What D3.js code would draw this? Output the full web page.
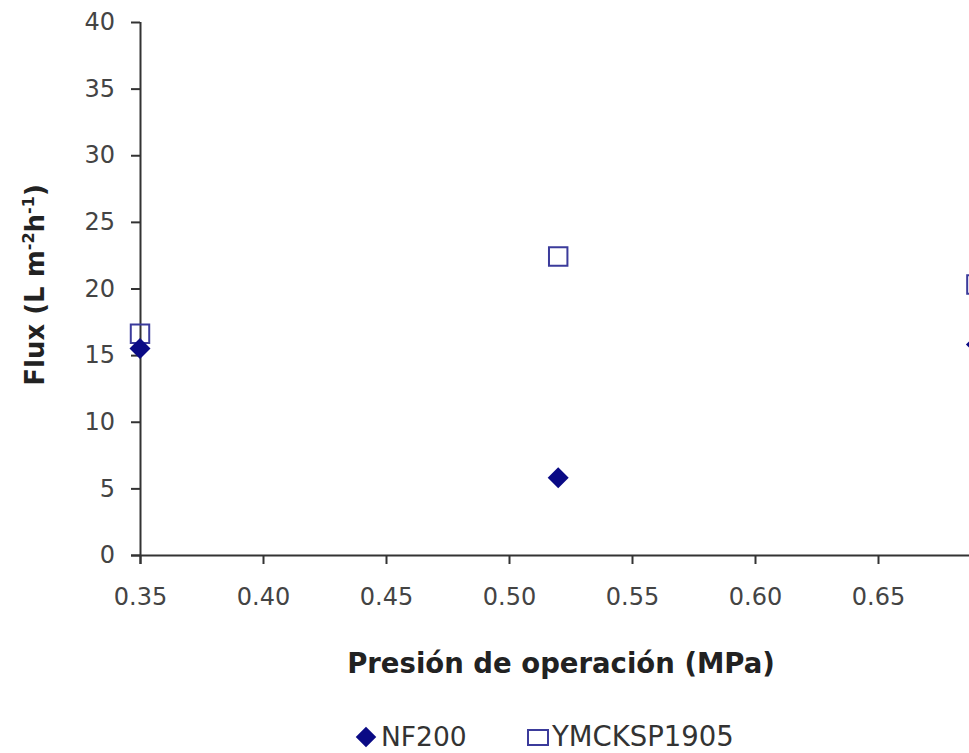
<!DOCTYPE html>
<html><head><meta charset="utf-8">
<script src="https://cdn.jsdelivr.net/npm/d3@7"></script>
<style>body{margin:0;background:#fff;overflow:hidden}</style>
</head><body>
<svg id="c" width="969" height="753"></svg>
<script>
const pressure = [0.35, 0.52, 0.69];
const nf200 = [15.5, 5.8, 15.8];
const ymcksp1905 = [16.6, 22.4, 20.3];
const xTicks = [0.35, 0.40, 0.45, 0.50, 0.55, 0.60, 0.65];
const yTicks = [0, 5, 10, 15, 20, 25, 30, 35, 40];
const seriesNames = ["NF200", "YMCKSP1905"];

const svg = d3.select("#c");
const x = d3.scaleLinear().domain([0.35, 0.70]).range([140, 1001]);
const y = d3.scaleLinear().domain([0, 40]).range([555, 22]);
const axisColor = "#333";
const font = "DejaVu Sans, Verdana, sans-serif";

const yAxis = svg.append("g").attr("transform", "translate(140,0)")
  .call(d3.axisLeft(y).tickValues(yTicks).tickSize(9).tickPadding(16).tickFormat(d3.format("d")));
const xAxis = svg.append("g").attr("transform", "translate(0,555)")
  .call(d3.axisBottom(x).tickValues(xTicks).tickSize(9).tickPadding(24).tickFormat(d3.format(".2f")));
[yAxis, xAxis].forEach(g => {
  g.select(".domain").attr("stroke", axisColor).attr("stroke-width", 2);
  g.selectAll(".tick line").attr("stroke", axisColor).attr("stroke-width", 2);
  g.selectAll(".tick text").attr("fill", "#444").style("font-family", font).style("font-size", "24px");
});
xAxis.select(".domain").attr("d", "M131,0.5H969");
yAxis.select(".domain").attr("d", "M0.5,22V564");

// Axis titles
svg.append("text").attr("x", 561).attr("y", 673).attr("text-anchor", "middle")
  .style("font-family", font).style("font-size", "27.5px").style("font-weight", "bold").attr("fill", "#222")
  .text("Presión de operación (MPa)");
const yt = svg.append("text").attr("transform", "translate(44,285) rotate(-90)").attr("text-anchor", "middle")
  .style("font-family", font).style("font-size", "26px").style("font-weight", "bold").attr("fill", "#222");
yt.append("tspan").text("Flux (L m");
yt.append("tspan").attr("dy", -10).style("font-size", "16px").text("-2");
yt.append("tspan").attr("dy", 10).text("h");
yt.append("tspan").attr("dy", -10).style("font-size", "16px").text("-1");
yt.append("tspan").attr("dy", 10).text(")");

const diamond = d3.symbol().type(d3.symbolSquare).size(220);
const square = d3.symbol().type(d3.symbolSquare).size(340);

svg.append("g").selectAll("path").data(pressure.map((p, i) => [p, ymcksp1905[i]])).join("path")
  .attr("d", square).attr("transform", d => `translate(${x(d[0])},${y(d[1])})`)
  .attr("fill", "none").attr("stroke", "#3b3b9b").attr("stroke-width", 2);
svg.append("g").selectAll("path").data(pressure.map((p, i) => [p, nf200[i]])).join("path")
  .attr("d", diamond).attr("transform", d => `translate(${x(d[0])},${y(d[1])}) rotate(45)`)
  .attr("fill", "#0a0a85");

// Legend
const lg = svg.append("g");
lg.append("path").attr("d", d3.symbol().type(d3.symbolSquare).size(210))
  .attr("transform", "translate(366,737) rotate(45)").attr("fill", "#0a0a85");
lg.append("text").attr("x", 381).attr("y", 746).style("font-family", font).style("font-size", "26.5px").attr("fill", "#333").text(seriesNames[0]);
lg.append("rect").attr("x", 528).attr("y", 730).attr("width", 20).attr("height", 15)
  .attr("fill", "none").attr("stroke", "#3b3b9b").attr("stroke-width", 2);
lg.append("text").attr("x", 552).attr("y", 746).style("font-family", font).style("font-size", "27.5px").attr("fill", "#333").text(seriesNames[1]);
</script>
</body></html>
